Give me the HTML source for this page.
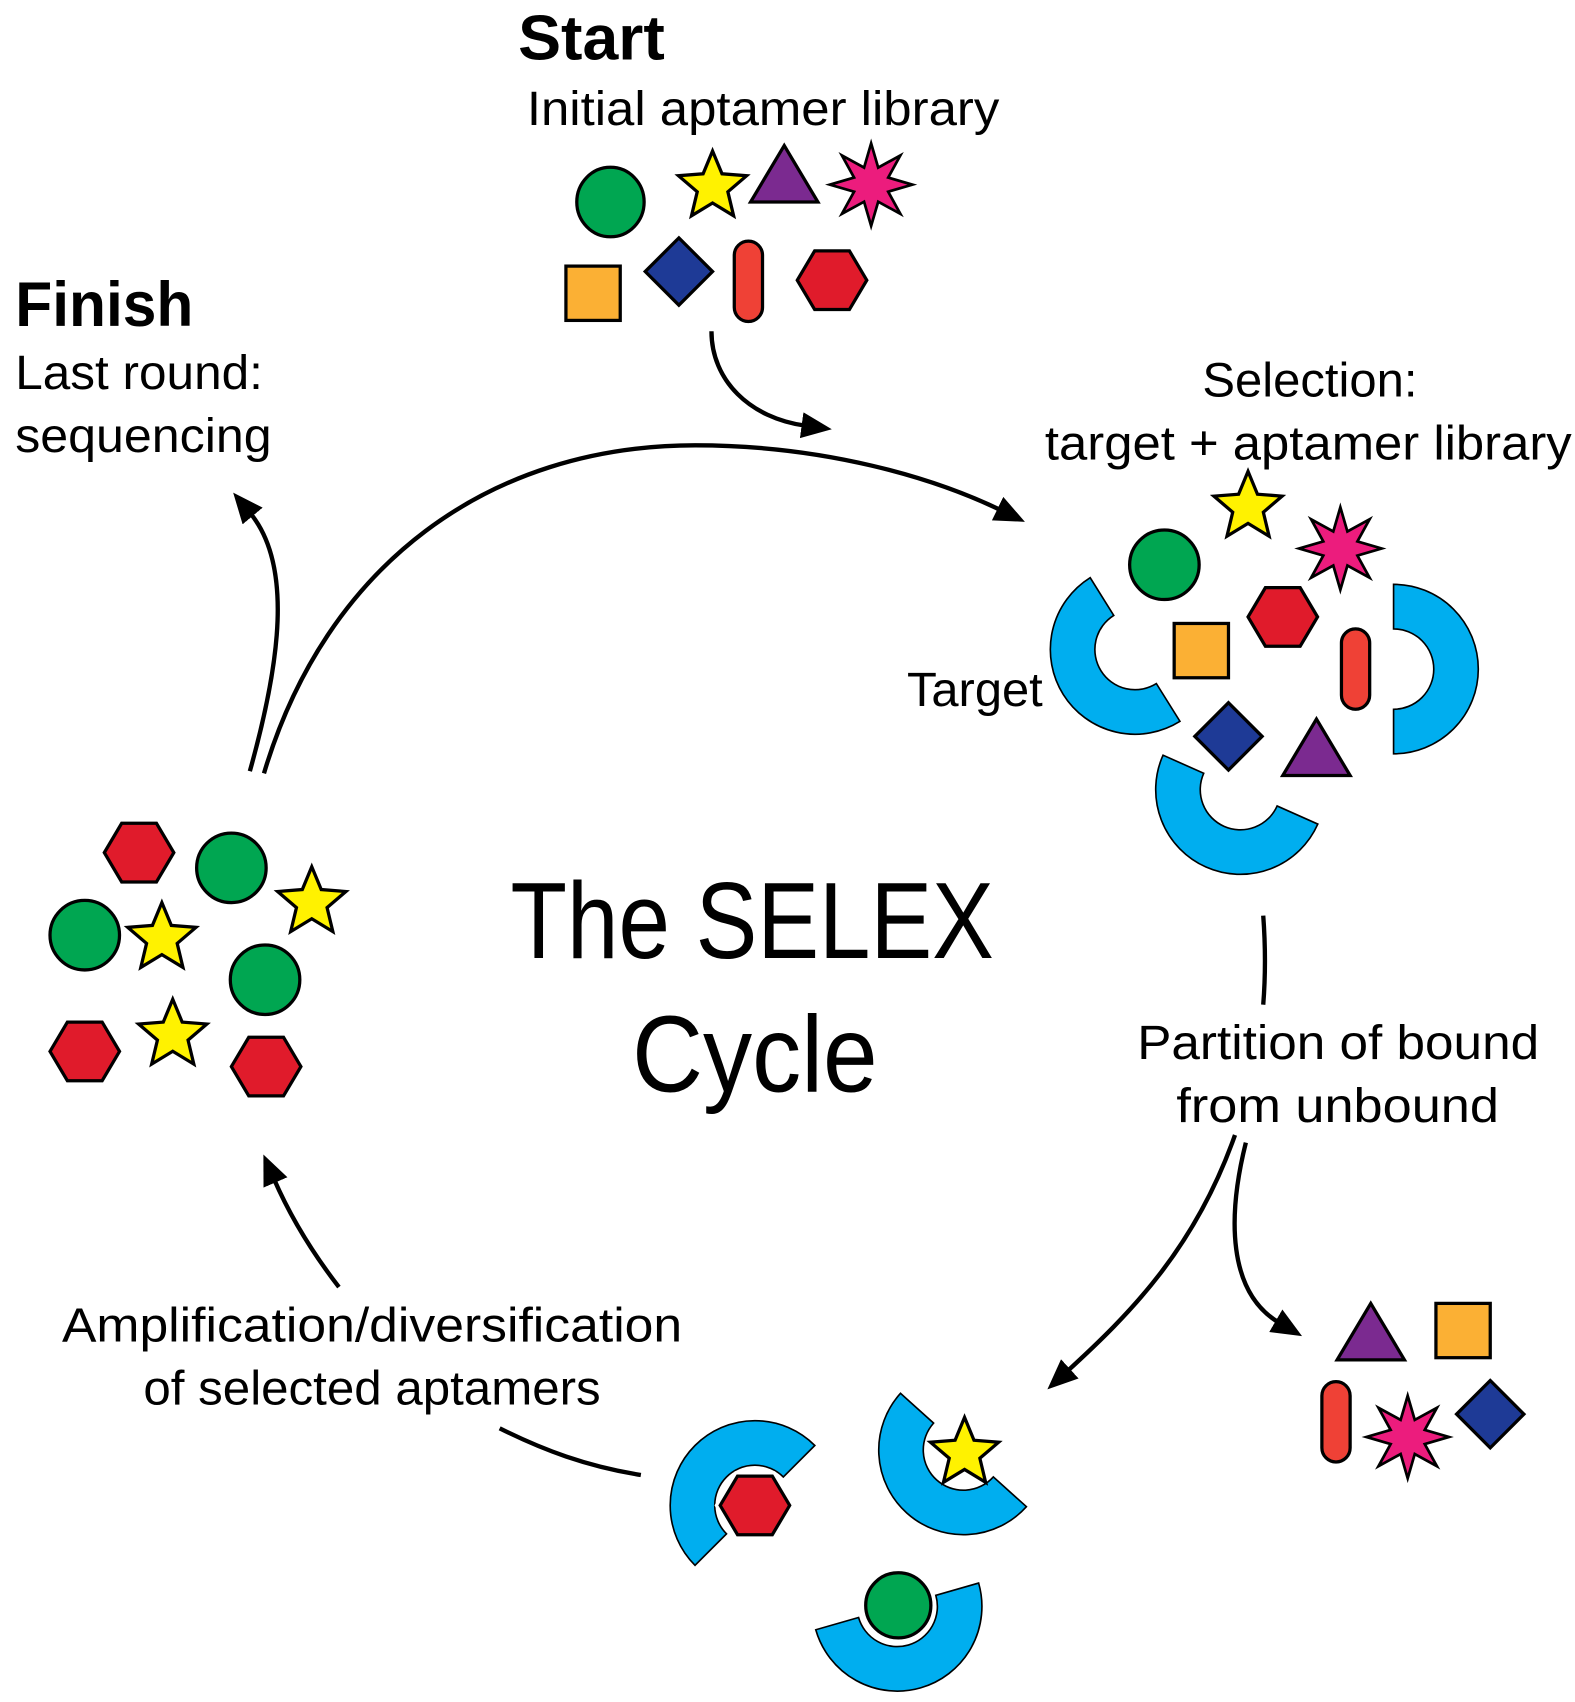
<!DOCTYPE html>
<html><head><meta charset="utf-8"><style>html,body{margin:0;padding:0;background:#fff}svg{display:block}</style></head>
<body>
<svg width="1575" height="1702" viewBox="0 0 1450 1567" xmlns="http://www.w3.org/2000/svg">
<defs>
<marker id="ah" markerUnits="userSpaceOnUse" markerWidth="30" markerHeight="26" refX="4" refY="12" orient="auto"><path d="M0,0 L28,12 L0,24 z" fill="#000"/></marker>
<polygon id="star" points="0,-33 8.7,-12 31.4,-10.2 14.1,4.6 19.4,26.7 0,14.9 -19.4,26.7 -14.1,4.6 -31.4,-10.2 -8.7,-12" fill="#fff200" stroke="#000" stroke-width="3" stroke-linejoin="miter"/>
<polygon id="burst" points="0,-38 6.5,-15.7 26.9,-26.9 15.7,-6.5 38,0 15.7,6.5 26.9,26.9 6.5,15.7 0,38 -6.5,15.7 -26.9,26.9 -15.7,6.5 -38,0 -15.7,-6.5 -26.9,-26.9 -6.5,-15.7" fill="#ec1c7d" stroke="#000" stroke-width="2.5"/>
<polygon id="hex" points="-32,0 -16,-27 16,-27 32,0 16,27 -16,27" fill="#e01b2b" stroke="#000" stroke-width="3"/>
<circle id="circ" r="32" fill="#00a651" stroke="#000" stroke-width="3"/>
<polygon id="tri" points="-31,26 31,26 0,-26" fill="#7b2a90" stroke="#000" stroke-width="3"/>
<polygon id="dia" points="0,-31 31,0 0,31 -31,0" fill="#1e3a96" stroke="#000" stroke-width="3"/>
<rect id="sq" x="-25" y="-25" width="50" height="50" fill="#fbb034" stroke="#000" stroke-width="3"/>
<rect id="pill" x="-13" y="-37" width="26" height="74" rx="13" fill="#ef4136" stroke="#000" stroke-width="3"/>
<path id="cee" d="M78,0 A78,78 0 0 1 -78,0 L-37,0 A37,37 0 0 0 37,0 Z" fill="#00aeef" stroke="#000" stroke-width="1.5"/>
</defs>

<g font-family="'Liberation Sans', sans-serif" fill="#000">
<text x="477" y="55" font-size="58" font-weight="bold" textLength="135" lengthAdjust="spacingAndGlyphs">Start</text>
<text x="485" y="115" font-size="44" textLength="435" lengthAdjust="spacingAndGlyphs">Initial aptamer library</text>
<text x="14" y="300" font-size="58" font-weight="bold" textLength="164" lengthAdjust="spacingAndGlyphs">Finish</text>
<text x="14" y="358" font-size="44" textLength="228" lengthAdjust="spacingAndGlyphs">Last round:</text>
<text x="14" y="416" font-size="44" textLength="236" lengthAdjust="spacingAndGlyphs">sequencing</text>
<text x="1107" y="365" font-size="44" textLength="198" lengthAdjust="spacingAndGlyphs">Selection:</text>
<text x="962" y="423" font-size="44" textLength="485" lengthAdjust="spacingAndGlyphs">target + aptamer library</text>
<text x="835" y="650" font-size="44" textLength="125" lengthAdjust="spacingAndGlyphs">Target</text>
<text x="470" y="882" font-size="100" textLength="445" lengthAdjust="spacingAndGlyphs">The SELEX</text>
<text x="582" y="1005" font-size="100" textLength="226" lengthAdjust="spacingAndGlyphs">Cycle</text>
<text x="1047" y="975" font-size="44" textLength="370" lengthAdjust="spacingAndGlyphs">Partition of bound</text>
<text x="1083" y="1033" font-size="44" textLength="297" lengthAdjust="spacingAndGlyphs">from unbound</text>
<text x="57" y="1235" font-size="44" textLength="571" lengthAdjust="spacingAndGlyphs">Amplification/diversification</text>
<text x="132" y="1293" font-size="44" textLength="421" lengthAdjust="spacingAndGlyphs">of selected aptamers</text>
</g>

<g fill="none" stroke="#000" stroke-width="4">
<path d="M655,305 C655,350 690,385 742,392" marker-end="url(#ah)"/>
<path d="M243,712 C300,520 450,410 640,410 C760,410 860,440 922,470" marker-end="url(#ah)"/>
<path d="M230,710 C258,610 270,520 230,472" marker-end="url(#ah)"/>
<path d="M1163,843 C1165,870 1165,900 1163,925"/>
<path d="M1137,1045 C1100,1150 1040,1210 982,1263" marker-end="url(#ah)"/>
<path d="M1147,1052 C1130,1120 1130,1190 1178,1218" marker-end="url(#ah)"/>
<path d="M312,1185 C285,1150 265,1115 252,1085" marker-end="url(#ah)"/>
<path d="M460,1315 C500,1335 540,1350 590,1358"/>
</g>

<!-- start library -->
<ellipse cx="562" cy="186" rx="31" ry="32" fill="#00a651" stroke="#000" stroke-width="3"/>
<use href="#star" x="656" y="172"/>
<use href="#tri" x="722" y="160"/>
<use href="#burst" x="802" y="170"/>
<use href="#sq" x="546" y="270"/>
<use href="#dia" x="625" y="250"/>
<use href="#pill" x="689" y="259"/>
<use href="#hex" x="766" y="258"/>

<!-- selection cluster -->
<g transform="translate(1045,598) rotate(58)"><use href="#cee"/></g>
<g transform="translate(1283,616) rotate(-90)"><use href="#cee"/></g>
<g transform="translate(1142,727) rotate(24)"><use href="#cee"/></g>
<use href="#star" x="1149" y="467"/>
<use href="#burst" x="1234" y="505"/>
<use href="#circ" x="1072" y="520"/>
<use href="#hex" x="1181" y="568"/>
<use href="#sq" x="1106" y="599"/>
<use href="#pill" x="1248" y="616"/>
<use href="#dia" x="1131" y="678"/>
<use href="#tri" x="1212" y="688"/>

<!-- left cluster -->
<use href="#hex" x="128" y="785"/>
<use href="#hex" x="78" y="968"/>
<use href="#hex" x="245" y="982"/>
<use href="#circ" x="213" y="799"/>
<use href="#circ" x="78" y="861"/>
<use href="#circ" x="244" y="902"/>
<use href="#star" x="287" y="831"/>
<use href="#star" x="149" y="864"/>
<use href="#star" x="159" y="953"/>

<!-- unbound -->
<use href="#tri" x="1262" y="1226"/>
<use href="#sq" x="1347" y="1225"/>
<use href="#pill" x="1230" y="1309"/>
<use href="#burst" x="1296" y="1323"/>
<use href="#dia" x="1372" y="1302"/>

<!-- bound -->
<g transform="translate(695,1386) rotate(135)"><use href="#cee"/></g>
<polygon points="-32,0 -16,-27 16,-27 32,0 16,27 -16,27" transform="translate(695,1386)" fill="#fff" stroke="#fff" stroke-width="9"/>
<use href="#hex" x="695" y="1386"/>
<g transform="translate(887,1335) rotate(42)"><use href="#cee"/></g>
<use href="#star" x="888" y="1338"/>
<g transform="translate(826,1479) rotate(-16)"><use href="#cee"/></g>
<circle cx="827" cy="1478" r="33" fill="#fff"/>
<circle cx="827" cy="1478" r="30" fill="#00a651" stroke="#000" stroke-width="3"/>
</svg>
</body></html>
